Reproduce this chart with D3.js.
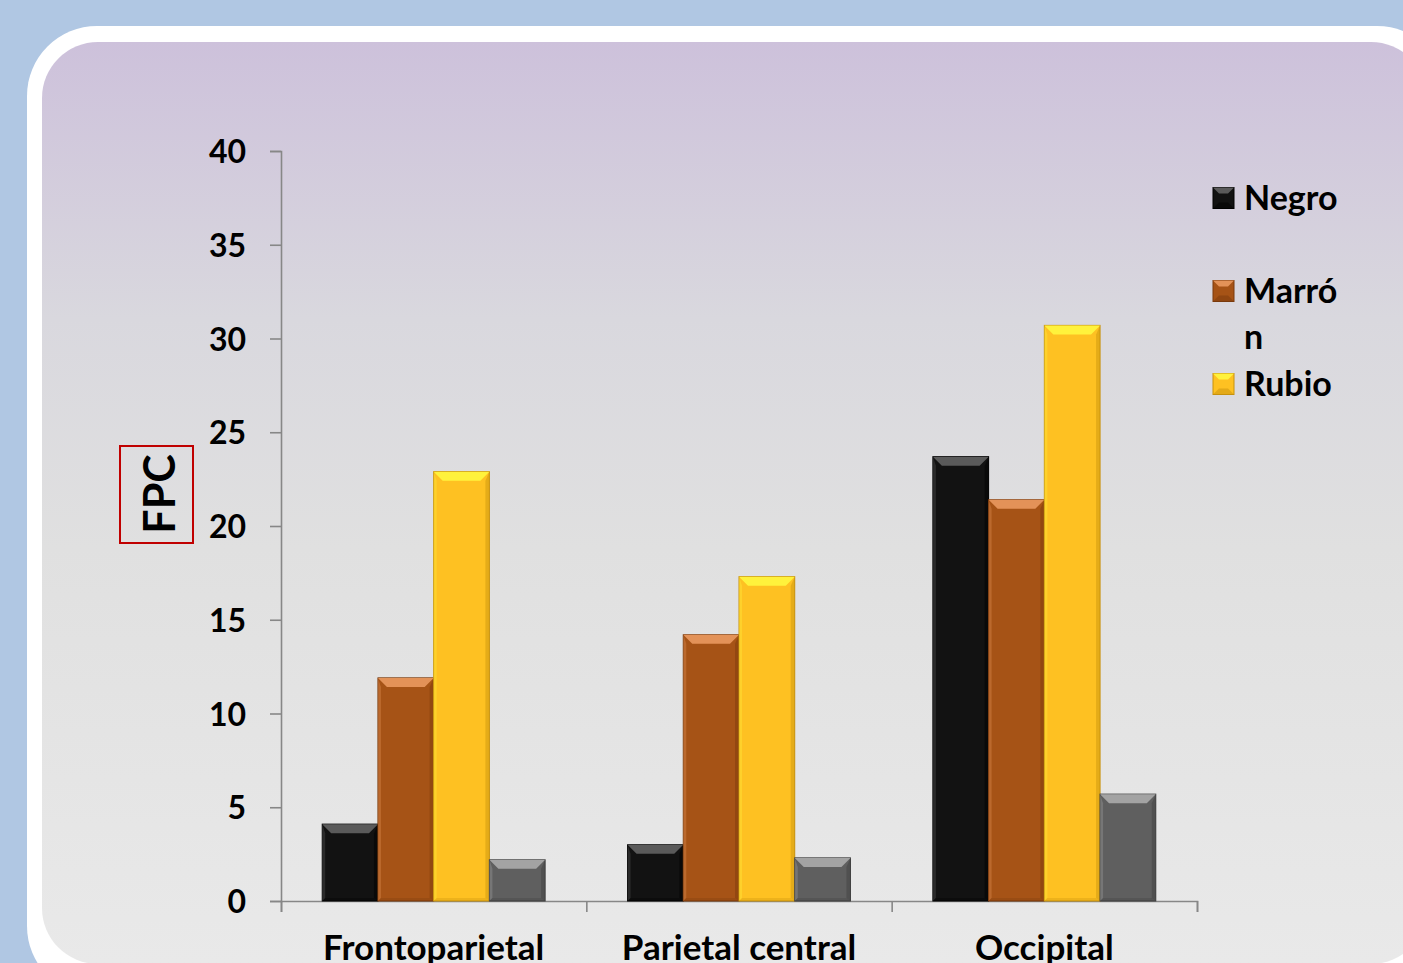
<!DOCTYPE html>
<html>
<head>
<meta charset="utf-8">
<script src="https://cdn.jsdelivr.net/npm/d3@7"></script>
<style>
  body { margin: 0; background: #b0c7e3; }
  svg { display: block; }
  text { font-family: Lato, "Open Sans", sans-serif; font-weight: bold; fill: #000; }
</style>
</head>
<body>
<script>
// data
var categories = ["Frontoparietal", "Parietal central", "Occipital"];
var seriesNames = ["Negro", "Marrón", "Rubio", ""];
var negro  = [4.1, 3.0, 23.7];
var marron = [11.9, 14.2, 21.4];
var rubio  = [22.9, 17.3, 30.7];
var gris   = [2.2, 2.3, 5.7];
var yTicks = [0, 5, 10, 15, 20, 25, 30, 35, 40];

var seriesValues = [negro, marron, rubio, gris];
var colors = ["#121212", "#a65316", "#fec122", "#5f5f5f"];
var lights = ["#5a5a5a", "#e39258", "#fff23c", "#a3a3a3"];
var darks  = ["#000000", "#7a3a0c", "#c7920d", "#3f3f3f"];

var width = 1403, height = 963;
var margin = {top: 151, left: 281, right: 206, bottom: 62};

var svg = d3.select("body").append("svg")
    .attr("width", width).attr("height", height);

var defs = svg.append("defs");
var grad = defs.append("linearGradient").attr("id", "panel")
    .attr("x1", 0).attr("y1", 0).attr("x2", 0).attr("y2", 1);
grad.append("stop").attr("offset", "0%").attr("stop-color", "#cdc1db");
grad.append("stop").attr("offset", "30%").attr("stop-color", "#d9d8de");
grad.append("stop").attr("offset", "55%").attr("stop-color", "#e0e0e0");
grad.append("stop").attr("offset", "100%").attr("stop-color", "#e9e9e9");

// background frame
svg.append("rect").attr("width", width).attr("height", height).attr("fill", "#b0c7e3");
svg.append("rect").attr("x", 27).attr("y", 26).attr("width", 1420).attr("height", 970)
    .attr("rx", 70).attr("ry", 70).attr("fill", "#ffffff");
svg.append("rect").attr("x", 42).attr("y", 42).attr("width", 1385).attr("height", 922)
    .attr("rx", 56).attr("ry", 56).attr("fill", "url(#panel)");

// scales
var y = d3.scaleLinear().domain([0, 40]).range([height - margin.bottom, margin.top]);
var x0 = d3.scaleBand().domain(categories)
    .range([margin.left, width - margin.right])
    .paddingInner(0.27).paddingOuter(0.135);
var x1 = d3.scaleBand().domain(d3.range(seriesNames.length))
    .range([0, x0.bandwidth()]);
var xEdge = d3.scaleLinear().domain([0, categories.length])
    .range([margin.left, width - margin.right]);

// axes
var yAxis = svg.append("g")
    .attr("transform", "translate(" + margin.left + ",0)")
    .call(d3.axisLeft(y).tickValues(yTicks).tickSize(11).tickPadding(24));
yAxis.selectAll("text").style("font-size", "32px").attr("dy", "0.36em");

var xAxis = svg.append("g")
    .attr("transform", "translate(0," + y(0) + ")")
    .call(d3.axisBottom(xEdge).tickValues(d3.range(categories.length + 1))
        .tickSize(11).tickFormat(""));

svg.selectAll(".domain, .tick line").attr("stroke", "#878787").attr("stroke-width", 1.6);

svg.append("g").selectAll("text").data(categories).join("text")
    .attr("x", function(d) { return x0(d) + x0.bandwidth() / 2; })
    .attr("y", 960)
    .attr("text-anchor", "middle")
    .style("font-size", "35px")
    .text(function(d) { return d; });

// bars with bevel
var bv = 9;
var groups = svg.append("g").selectAll("g").data(categories).join("g")
    .attr("transform", function(d) { return "translate(" + x0(d) + ",0)"; });

groups.each(function(cat, ci) {
  var g = d3.select(this);
  seriesValues.forEach(function(vals, si) {
    var bx = x1(si), bw = x1.bandwidth();
    var top = y(vals[ci]), bot = y(0);
    var b = g.append("g");
    b.append("rect").attr("x", bx).attr("y", top).attr("width", bw).attr("height", bot - top)
      .attr("fill", colors[si]).attr("stroke", darks[si]).attr("stroke-width", 1);
    // right side darker
    b.append("polygon").attr("points", [
        [bx + bw, top], [bx + bw - 4, top + bv], [bx + bw - 4, bot - 3], [bx + bw, bot]
      ].join(" ")).attr("fill", darks[si]).attr("opacity", 0.45);
    // left side lighter
    b.append("polygon").attr("points", [
        [bx, top], [bx + 3, top + bv], [bx + 3, bot - 3], [bx, bot]
      ].join(" ")).attr("fill", lights[si]).attr("opacity", 0.35);
    // bottom
    b.append("polygon").attr("points", [
        [bx, bot], [bx + 3, bot - 3], [bx + bw - 4, bot - 3], [bx + bw, bot]
      ].join(" ")).attr("fill", darks[si]).attr("opacity", 0.3);
    // top bevel
    b.append("polygon").attr("points", [
        [bx, top], [bx + bw, top], [bx + bw - bv, top + bv], [bx + bv, top + bv]
      ].join(" ")).attr("fill", lights[si]);
  });
});

// y title with red box
svg.append("rect").attr("x", 120).attr("y", 446).attr("width", 73).attr("height", 97)
    .attr("fill", "none").attr("stroke", "#c00000").attr("stroke-width", 2);
svg.append("text")
    .attr("transform", "translate(175,494) rotate(-90)")
    .attr("text-anchor", "middle")
    .style("font-size", "43px")
    .text("FPC");

// legend (Marrón wraps onto a second line as in the picture)
var legendItems = [
  {name: seriesNames[0], lines: ["Negro"], y: 198},
  {name: seriesNames[1], lines: ["Marró", "n"], y: 291},
  {name: seriesNames[2], lines: ["Rubio"], y: 384}
];
var leg = svg.append("g").selectAll("g").data(legendItems).join("g")
    .attr("transform", function(d) { return "translate(1213," + d.y + ")"; });
leg.each(function(d, i) {
  var g = d3.select(this), s = 21, e = 6;
  g.append("rect").attr("x", 0).attr("y", -s / 2).attr("width", s).attr("height", s)
    .attr("fill", colors[i]).attr("stroke", darks[i]).attr("stroke-width", 1);
  g.append("polygon").attr("points", [[0, -s / 2], [s, -s / 2], [s - e, -s / 2 + e], [e, -s / 2 + e]].join(" "))
    .attr("fill", lights[i]);
  g.append("polygon").attr("points", [[0, s / 2], [s, s / 2], [s - e, s / 2 - e], [e, s / 2 - e]].join(" "))
    .attr("fill", darks[i]).attr("opacity", 0.5);
  var t = g.append("text").attr("x", 31).attr("y", 0).style("font-size", "34px");
  d.lines.forEach(function(l, k) {
    t.append("tspan").attr("x", 31).attr("dy", k === 0 ? "0.36em" : "46px").text(l);
  });
});
</script>
</body>
</html>
